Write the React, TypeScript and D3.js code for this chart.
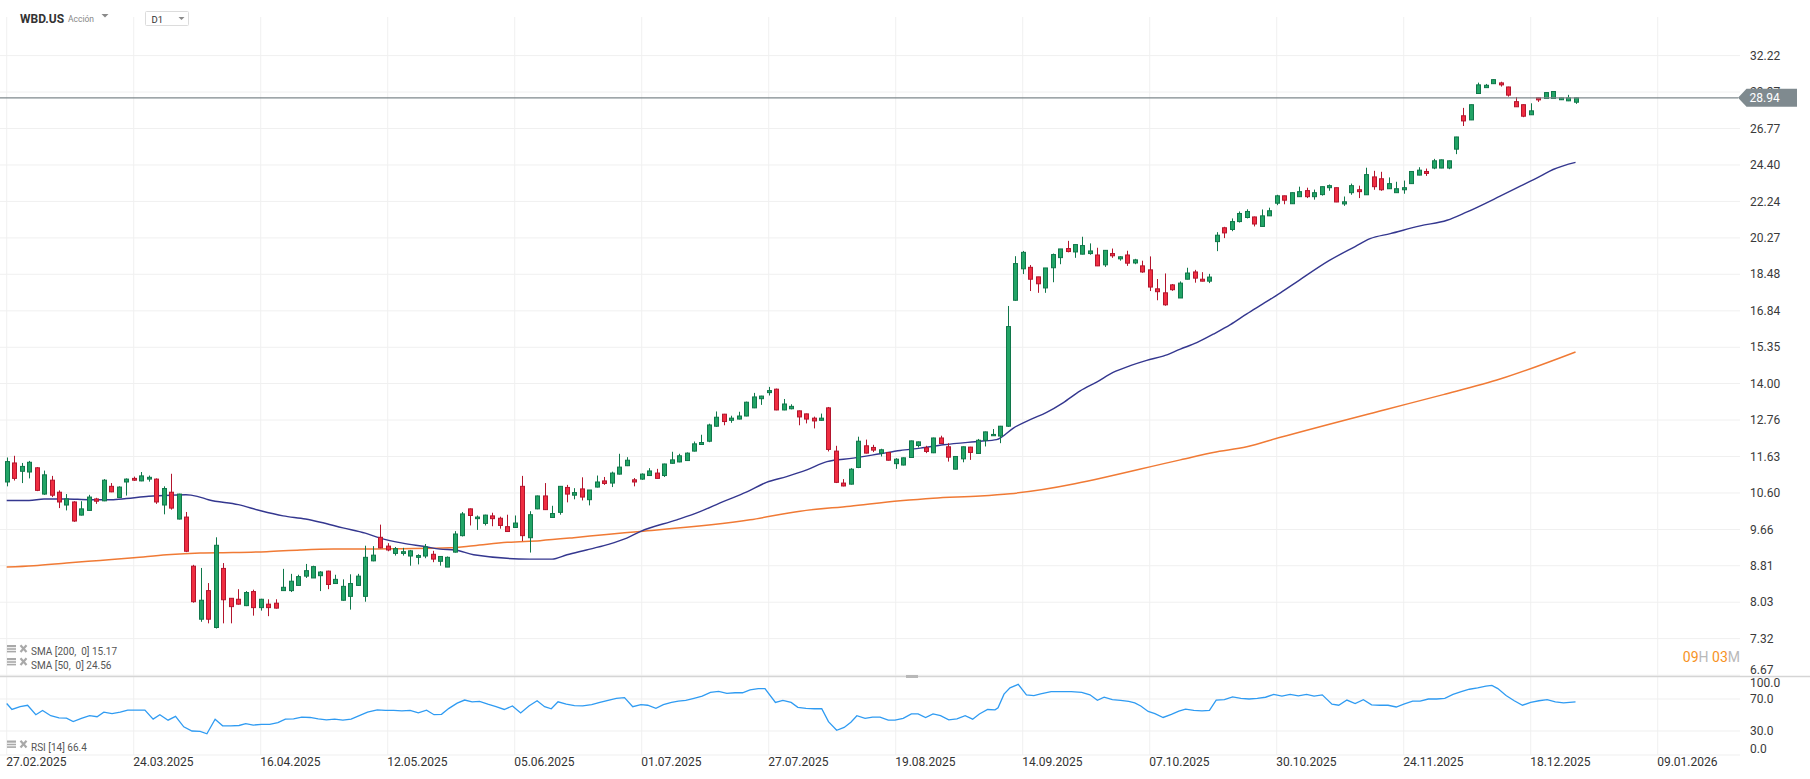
import React from 'react';
import * as d3 from 'd3';

// ---------- DATA ----------
const ticker = 'WBD.US';
const assetType = 'Acción';
const timeframe = 'D1';

const opens = [
  10.90, 11.44, 11.20, 11.18, 11.30, 10.57, 10.95, 10.62, 10.28, 10.36,
  10.02, 10.14, 10.44, 10.39, 10.78, 10.48, 10.90, 11.00, 10.93, 10.98,
  10.98, 10.28, 10.62, 9.92, 9.97, 8.80, 7.69, 8.27, 7.53, 8.75,
  8.11, 8.09, 7.96, 8.25, 7.92, 7.99, 8.01, 8.27, 8.27, 8.38,
  8.58, 8.54, 8.59, 8.69, 8.42, 8.07, 8.15, 8.38, 8.15, 8.92,
  9.47, 9.26, 9.09, 9.09, 9.03, 9.00, 9.03, 9.07, 8.91, 8.78,
  9.12, 9.51, 10.18, 9.93, 9.81, 10.00, 9.94, 9.73, 9.71, 10.78,
  9.46, 10.18, 10.52, 9.96, 10.09, 10.75, 10.54, 10.71, 10.42, 10.76,
  10.93, 10.87, 11.12, 11.36, 10.96, 10.98, 11.08, 11.15, 11.08, 11.43,
  11.47, 11.51, 11.79, 11.99, 12.09, 12.56, 12.95, 12.75, 12.79, 12.89,
  13.16, 13.47, 13.68, 13.80, 13.09, 13.13, 13.06, 12.96, 12.82, 12.75,
  13.16, 11.79, 10.87, 10.84, 11.31, 11.95, 11.90, 11.73, 11.75, 11.42,
  11.38, 11.60, 11.96, 11.89, 11.74, 12.19, 11.92, 11.26, 11.56, 11.91,
  11.72, 12.12, 12.26, 12.25, 12.56, 17.30, 18.74, 18.81, 18.36, 17.85,
  18.79, 19.28, 19.73, 19.56, 19.45, 19.48, 19.41, 18.93, 19.48, 19.22,
  19.41, 19.02, 18.88, 18.69, 17.81, 17.63, 17.99, 17.40, 18.25, 18.59,
  18.25, 18.16, 20.08, 20.80, 20.71, 21.13, 21.35, 21.38, 20.87, 21.44,
  22.14, 22.56, 22.11, 22.51, 22.86, 22.51, 22.63, 23.03, 23.03, 22.10,
  22.74, 22.91, 22.62, 23.67, 23.56, 22.97, 22.74, 22.91, 23.27, 23.78,
  24.00, 24.21, 24.21, 24.21, 25.40, 27.65, 27.36, 29.26, 29.70, 30.00,
  30.06, 29.75, 28.66, 28.44, 27.72, 28.94, 28.89, 28.89, 28.80, 28.72,
  28.62,
];
const highs = [
  11.60, 11.65, 11.44, 11.50, 11.32, 11.22, 11.07, 10.67, 10.57, 10.38,
  10.38, 10.55, 10.47, 10.98, 10.87, 10.78, 11.00, 11.05, 11.18, 11.08,
  11.00, 10.78, 11.13, 10.58, 10.10, 8.83, 8.76, 8.43, 9.47, 8.87,
  8.11, 8.30, 8.26, 8.29, 8.10, 8.09, 8.09, 8.74, 8.63, 8.61,
  8.85, 8.81, 8.69, 8.70, 8.61, 8.51, 8.62, 8.63, 9.27, 9.26,
  9.78, 9.33, 9.24, 9.22, 9.17, 9.07, 9.31, 9.15, 9.02, 9.02,
  9.62, 10.10, 10.19, 10.01, 10.03, 10.08, 9.98, 10.03, 10.01, 11.07,
  10.12, 10.53, 10.87, 10.26, 10.79, 10.82, 10.73, 11.03, 10.68, 11.08,
  11.04, 11.19, 11.71, 11.61, 11.01, 11.14, 11.29, 11.27, 11.42, 11.77,
  11.71, 11.75, 12.08, 12.29, 12.64, 13.04, 12.96, 12.90, 13.03, 13.37,
  13.67, 13.57, 13.88, 13.82, 13.46, 13.28, 13.07, 12.97, 12.87, 12.97,
  13.19, 11.95, 10.98, 11.29, 12.23, 12.14, 11.98, 11.86, 11.76, 11.58,
  11.60, 12.11, 12.08, 11.95, 12.20, 12.26, 12.03, 11.64, 11.93, 11.92,
  12.16, 12.39, 12.47, 12.57, 17.05, 19.35, 19.61, 18.92, 18.36, 18.78,
  19.48, 19.71, 20.12, 19.93, 20.33, 19.99, 19.77, 19.65, 19.73, 19.35,
  19.62, 19.22, 19.13, 19.34, 18.26, 18.52, 18.03, 18.15, 18.79, 18.69,
  18.58, 18.50, 20.57, 20.85, 21.30, 21.68, 21.80, 21.40, 21.79, 21.89,
  22.62, 22.57, 22.75, 23.09, 23.03, 22.92, 23.10, 23.22, 23.04, 22.52,
  23.27, 23.15, 24.23, 24.04, 23.98, 23.64, 23.38, 23.45, 24.01, 24.26,
  24.18, 24.78, 24.74, 24.67, 26.21, 28.21, 28.45, 30.08, 29.98, 30.33,
  30.15, 29.77, 29.00, 28.46, 28.54, 28.96, 29.34, 29.42, 28.96, 29.16,
  28.96,
];
const lows = [
  10.78, 10.94, 10.87, 11.00, 10.65, 10.55, 10.49, 10.20, 10.14, 9.85,
  10.01, 10.13, 10.31, 10.38, 10.62, 10.47, 10.53, 10.93, 10.92, 10.91,
  10.31, 10.04, 10.16, 9.91, 9.12, 8.02, 7.64, 7.61, 7.51, 7.61,
  7.61, 7.98, 7.95, 7.76, 7.86, 7.75, 7.90, 8.27, 8.24, 8.38,
  8.54, 8.54, 8.26, 8.30, 8.41, 8.06, 7.88, 8.37, 8.04, 8.91,
  9.21, 9.14, 9.04, 9.04, 8.81, 8.84, 8.98, 8.89, 8.81, 8.78,
  9.11, 9.49, 9.76, 9.65, 9.76, 9.74, 9.68, 9.61, 9.71, 9.38,
  9.11, 10.17, 10.15, 9.96, 10.03, 10.35, 10.43, 10.40, 10.27, 10.75,
  10.82, 10.76, 11.11, 11.35, 10.78, 10.96, 11.07, 11.00, 11.04, 11.42,
  11.46, 11.50, 11.78, 11.98, 12.06, 12.54, 12.59, 12.67, 12.78, 12.88,
  13.15, 13.26, 13.58, 13.08, 13.08, 13.11, 12.59, 12.65, 12.49, 12.74,
  11.78, 10.87, 10.78, 10.83, 11.29, 11.72, 11.76, 11.63, 11.51, 11.27,
  11.37, 11.59, 11.90, 11.73, 11.73, 12.01, 11.48, 11.25, 11.46, 11.53,
  11.71, 11.93, 12.26, 12.03, 12.54, 17.28, 18.49, 17.71, 17.63, 17.63,
  18.11, 18.96, 19.54, 19.27, 19.44, 19.42, 18.87, 18.83, 19.27, 19.13,
  18.88, 18.96, 18.55, 17.71, 17.30, 17.06, 17.72, 17.40, 18.24, 18.09,
  18.15, 18.07, 19.60, 20.26, 20.62, 21.08, 21.30, 20.87, 20.86, 21.43,
  22.03, 22.08, 22.10, 22.50, 22.43, 22.34, 22.57, 22.85, 22.20, 21.99,
  22.62, 22.43, 22.61, 22.91, 22.85, 22.96, 22.73, 22.68, 23.26, 23.77,
  23.73, 24.14, 24.20, 24.14, 25.08, 26.94, 27.35, 29.24, 29.69, 29.98,
  29.78, 29.03, 28.28, 27.55, 27.71, 28.64, 28.88, 28.88, 28.78, 28.70,
  28.50,
];
const closes = [
  11.48, 11.00, 11.34, 11.46, 10.67, 11.10, 10.54, 10.36, 10.44, 9.87,
  10.18, 10.49, 10.38, 10.95, 10.63, 10.76, 10.98, 10.95, 11.07, 11.03,
  10.36, 10.72, 10.20, 10.57, 9.14, 8.04, 8.07, 7.69, 9.28, 8.08,
  7.94, 7.99, 8.23, 7.92, 8.09, 7.92, 7.91, 8.34, 8.47, 8.57,
  8.70, 8.79, 8.67, 8.40, 8.51, 8.36, 8.42, 8.58, 9.00, 9.05,
  9.22, 9.17, 9.20, 9.13, 9.15, 9.04, 9.24, 8.96, 9.02, 9.00,
  9.55, 10.05, 10.01, 9.97, 10.02, 9.93, 9.76, 9.61, 9.82, 9.51,
  10.03, 10.52, 10.16, 10.06, 10.78, 10.57, 10.61, 10.49, 10.68, 10.90,
  10.86, 11.15, 11.32, 11.52, 10.90, 11.12, 11.21, 11.00, 11.41, 11.53,
  11.65, 11.73, 12.01, 12.05, 12.60, 12.85, 12.71, 12.82, 12.89, 13.35,
  13.53, 13.56, 13.75, 13.09, 13.29, 13.21, 12.86, 12.79, 12.73, 12.82,
  11.84, 10.89, 10.79, 11.26, 12.09, 11.73, 11.82, 11.83, 11.52, 11.55,
  11.59, 12.10, 12.07, 11.78, 12.19, 12.02, 11.61, 11.63, 11.92, 11.75,
  12.12, 12.38, 12.30, 12.56, 16.18, 18.99, 19.54, 18.25, 18.04, 18.78,
  19.43, 19.71, 19.58, 19.93, 19.88, 19.61, 18.88, 19.64, 19.37, 19.32,
  19.01, 19.17, 18.59, 17.89, 17.68, 17.10, 17.77, 18.07, 18.54, 18.30,
  18.16, 18.35, 20.41, 20.53, 21.13, 21.57, 21.68, 21.00, 21.44, 21.72,
  22.56, 22.31, 22.74, 22.80, 22.51, 22.74, 23.09, 23.15, 22.21, 22.22,
  23.15, 22.80, 23.81, 23.09, 22.91, 23.27, 22.97, 23.03, 24.00, 24.08,
  23.88, 24.66, 24.72, 24.66, 26.20, 27.29, 28.44, 29.91, 29.88, 30.31,
  29.91, 29.14, 28.29, 27.62, 28.00, 28.79, 29.33, 29.41, 28.94, 28.94,
  28.94,
];

// SMA(50): bar index, value
const sma50Bars = [0, 3, 5, 8, 11, 14, 16, 19, 22, 24, 25.5, 27, 31, 34, 37, 40, 42, 45, 48, 50, 53, 56, 58, 60, 62.5, 70, 73, 75, 77.6, 80.3, 83, 84.8, 89.7, 92.8, 95.9, 99, 101.7, 104.4, 107.1, 109.8, 113.3, 116.9, 119.6, 122.3, 125.4, 130.3, 132.5, 134.8, 137, 139.2, 141.4, 143.7, 145.9, 148.1, 150.4, 152.6, 154.8, 157.1, 159.3, 161.5, 163.8, 166, 168.2, 170.5, 173, 177, 180.5, 182.5, 185.2, 189.2, 192.8, 195.4, 199.9, 202.6, 205.3, 207, 210];
const sma50Vals = [10.40, 10.40, 10.44, 10.44, 10.42, 10.42, 10.45, 10.51, 10.54, 10.55, 10.51, 10.42, 10.29, 10.13, 10.00, 9.92, 9.84, 9.70, 9.57, 9.45, 9.33, 9.25, 9.19, 9.17, 9.06, 8.96, 8.96, 9.06, 9.17, 9.29, 9.45, 9.61, 9.90, 10.11, 10.37, 10.62, 10.89, 11.05, 11.24, 11.48, 11.58, 11.71, 11.81, 11.88, 11.98, 12.09, 12.14, 12.51, 12.77, 13.01, 13.33, 13.74, 14.05, 14.40, 14.65, 14.85, 15.01, 15.28, 15.53, 15.87, 16.26, 16.71, 17.15, 17.63, 18.20, 19.13, 19.83, 20.23, 20.49, 20.90, 21.20, 21.64, 22.54, 23.12, 23.72, 24.12, 24.56];

// SMA(200)
const sma200Bars = [0, 3.6, 8, 12.5, 17, 21.4, 25.9, 30.3, 34.8, 39.3, 43.7, 48.2, 52.6, 59.3, 62.5, 67, 71.4, 75.9, 80.3, 84.8, 99.5, 106.2, 112.9, 119.6, 124, 130.3, 134.3, 157.1, 161.5, 166, 170.5, 184.5, 192.3, 200, 210];
const sma200Vals = [8.78, 8.81, 8.87, 8.93, 8.99, 9.06, 9.10, 9.11, 9.13, 9.17, 9.19, 9.19, 9.20, 9.22, 9.27, 9.35, 9.39, 9.46, 9.54, 9.61, 9.90, 10.12, 10.25, 10.39, 10.46, 10.52, 10.58, 11.53, 11.75, 11.92, 12.21, 13.10, 13.61, 14.17, 15.17];

// RSI(14)
const rsiBars = [0, 0.7, 1.8, 2.8, 3.9, 4.8, 5.9, 7.0, 8.0, 8.9, 10.0, 11.1, 12.1, 13.0, 14.1, 15.2, 16.2, 17.3, 18.5, 19.6, 20.5, 21.6, 22.6, 23.7, 24.8, 25.9, 26.8, 27.9, 28.9, 30.0, 31.1, 32.0, 33.0, 34.1, 35.2, 36.3, 37.3, 38.4, 39.5, 40.6, 41.7, 42.8, 43.9, 45.0, 46.1, 47.2, 48.3, 49.6, 50.7, 51.8, 52.9, 54.0, 55.1, 56.2, 57.2, 58.2, 59.2, 60.3, 61.3, 62.3, 63.3, 64.4, 65.5, 66.6, 67.7, 68.8, 69.9, 71.0, 72.0, 72.9, 73.8, 74.9, 76.0, 77.1, 78.3, 79.4, 80.5, 81.6, 82.7, 83.8, 84.9, 85.8, 86.9, 87.9, 89.0, 89.9, 90.9, 92.0, 93.1, 94.2, 95.3, 96.4, 97.5, 98.5, 99.5, 100.6, 101.5, 102.9, 103.9, 105.0, 105.9, 107.0, 108.1, 109.1, 110.0, 111.1, 112.1, 113.0, 113.8, 114.9, 115.9, 116.9, 118.0, 118.9, 120.0, 121.1, 122.0, 123.0, 124.0, 125.0, 126.1, 127.2, 128.3, 129.3, 130.2, 131.3, 132.3, 132.7, 133.5, 134.3, 135.4, 136.5, 137.5, 138.4, 139.8, 141.2, 142.5, 143.9, 145.0, 146.0, 146.9, 148.0, 149.1, 150.2, 151.0, 151.8, 152.8, 153.7, 154.8, 155.9, 156.9, 157.8, 158.9, 160.0, 161.0, 161.9, 163.0, 164.1, 165.2, 166.3, 167.4, 168.5, 169.6, 170.7, 171.8, 172.9, 174.0, 175.0, 176.1, 177.4, 178.3, 179.4, 180.5, 181.6, 182.7, 183.8, 184.9, 186.0, 187.1, 188.2, 189.2, 190.3, 191.4, 192.5, 193.6, 194.7, 195.8, 196.9, 198.0, 198.8, 199.6, 200.7, 201.8, 202.9, 204.0, 205.1, 206.2, 207.3, 208.4, 210];
const rsiVals = [64.4, 56.9, 60.4, 62.2, 50.4, 55.7, 49.1, 46.5, 46.1, 41.7, 45.7, 49.1, 47.8, 53.5, 51.7, 53.5, 56.1, 56.1, 56.1, 44.8, 50.4, 43.5, 48.3, 35.2, 30.0, 29.6, 26.5, 44.8, 36.5, 36.5, 36.9, 39.1, 37.4, 38.3, 38.3, 40.4, 44.8, 45.2, 47.4, 46.9, 45.2, 43.9, 44.8, 43.5, 44.8, 49.1, 53.5, 56.5, 55.7, 55.7, 55.2, 55.7, 52.6, 56.1, 50.4, 50.9, 58.3, 64.8, 68.7, 66.5, 67.0, 63.5, 60.4, 56.9, 61.3, 52.6, 61.3, 67.8, 60.4, 57.8, 66.5, 63.5, 61.7, 61.3, 63.0, 65.7, 68.3, 70.9, 71.7, 60.4, 63.0, 62.2, 58.3, 63.0, 65.7, 67.4, 68.3, 70.9, 73.5, 78.3, 79.6, 77.0, 77.8, 77.8, 81.3, 83.0, 83.0, 65.7, 68.3, 65.7, 59.6, 58.3, 57.8, 57.8, 41.7, 30.9, 34.4, 40.9, 49.1, 45.7, 47.4, 47.4, 43.5, 43.5, 45.7, 51.3, 51.3, 46.9, 51.3, 49.1, 43.9, 45.2, 49.1, 44.8, 51.3, 56.9, 56.5, 59.1, 76.1, 83.9, 88.3, 75.2, 74.3, 76.5, 79.1, 79.1, 79.1, 78.3, 75.2, 68.3, 72.2, 69.1, 68.3, 67.0, 65.2, 61.3, 54.4, 51.7, 46.9, 50.9, 54.8, 57.4, 55.7, 55.2, 55.7, 68.7, 69.1, 72.6, 70.9, 70.0, 70.9, 72.2, 75.7, 73.5, 75.7, 73.9, 75.7, 73.5, 75.2, 63.5, 62.2, 68.7, 64.4, 69.1, 62.6, 62.2, 62.2, 60.0, 63.9, 67.4, 67.4, 70.0, 70.0, 70.9, 75.7, 79.1, 82.2, 83.9, 86.1, 87.0, 83.0, 74.3, 67.8, 62.2, 65.7, 67.8, 69.1, 66.5, 65.2, 66.4];

const priceTicks = [32.22, 29.37, 26.77, 24.40, 22.24, 20.27, 18.48, 16.84, 15.35, 14.00, 12.76, 11.63, 10.60, 9.66, 8.81, 8.03, 7.32, 6.67];
const rsiTicks = [100, 70, 30, 0];
const dateLabels = ['27.02.2025', '24.03.2025', '16.04.2025', '12.05.2025', '05.06.2025', '01.07.2025', '27.07.2025', '19.08.2025', '14.09.2025', '07.10.2025', '30.10.2025', '24.11.2025', '18.12.2025', '09.01.2026'];
const dateLabelBars = [0, 17, 34, 51, 68, 85, 102, 119, 136, 153, 170, 187, 204, 221];

const lastPrice = 28.94;
const sma200Last = 15.17;
const sma50Last = 24.56;
const rsiLast = 66.4;
const countdownH = '09';
const countdownM = '03';

// ---------- COMPONENT ----------
const FONT = 'Roboto, "Noto Sans", Arial, sans-serif';

function LegendIcons({ y }: { y: number }) {
  return (
    <g>
      <rect x={7} y={y} width={9} height={2.2} fill="#a9a9a9" />
      <rect x={7} y={y + 3.2} width={9} height={1.6} fill="#a9a9a9" />
      <rect x={7} y={y + 5.8} width={9} height={1.6} fill="#a9a9a9" />
      <path d={`M20.5,${y + 0.3} L26.5,${y + 7}`} stroke="#a9a9a9" strokeWidth={2.2} />
      <path d={`M26.5,${y + 0.3} L20.5,${y + 7}`} stroke="#a9a9a9" strokeWidth={2.2} />
    </g>
  );
}

export default function App() {
  const W = 1810;
  const H = 779;
  const plotRight = 1740;
  const mainBottom = 675.5;

  const x = d3.scaleLinear().domain([0, 221]).range([6.7, 1657.7]);
  const y = d3.scaleLog().domain([6.67, 32.22]).range([675.2, 55.6]);
  const yr = d3.scaleLinear().domain([0, 100]).range([755, 675]);

  const smaLine = d3
    .line<[number, number]>()
    .x((d) => x(d[0]))
    .y((d) => y(d[1]))
    .curve(d3.curveMonotoneX);
  const rsiLine = d3
    .line<[number, number]>()
    .x((d) => x(d[0]))
    .y((d) => yr(d[1]));

  const sma50Pts = sma50Bars.map((b, i) => [b, sma50Vals[i]] as [number, number]);
  const sma200Pts = sma200Bars.map((b, i) => [b, sma200Vals[i]] as [number, number]);
  const rsiPts = rsiBars.map((b, i) => [b, rsiVals[i]] as [number, number]);

  const bodyW = 4;
  const lastY = y(lastPrice);

  return (
    <div style={{ position: 'absolute', left: 0, top: 0, width: W, height: H, background: '#fff' }}>
      <svg width={W} height={H} style={{ display: 'block', fontFamily: FONT }}>
        <defs>
          <clipPath id="mainClip">
            <rect x={0} y={17} width={plotRight} height={mainBottom - 17} />
          </clipPath>
          <clipPath id="rsiClip">
            <rect x={0} y={677} width={plotRight} height={80} />
          </clipPath>
        </defs>
        <rect x={0} y={0} width={W} height={H} fill="#ffffff" />

        {/* vertical grid */}
        {dateLabelBars.map((b) => (
          <line key={'vg' + b} x1={x(b)} x2={x(b)} y1={17} y2={755} stroke="#f0f0f0" strokeWidth={1} />
        ))}

        {/* horizontal grid main */}
        {priceTicks.map((t) => (
          <line key={'hg' + t} x1={0} x2={plotRight} y1={y(t)} y2={y(t)} stroke="#f0f0f0" strokeWidth={1} />
        ))}
        {/* horizontal grid rsi */}
        {rsiTicks.filter((t) => t < 100).map((t) => (
          <line key={'rg' + t} x1={0} x2={plotRight} y1={yr(t)} y2={yr(t)} stroke="#efefef" strokeWidth={1} />
        ))}

        {/* price axis labels */}
        {priceTicks.map((t) => (
          <text
            key={'pl' + t}
            x={1750}
            y={Math.min(y(t), 670)}
            dy="0.35em"
            fontSize={12}
            fill="#3a3a3a"
          >
            {t.toFixed(2)}
          </text>
        ))}

        {/* rsi axis labels */}
        {rsiTicks.map((t) => (
          <text
            key={'rl' + t}
            x={1750}
            y={Math.max(683, Math.min(749, yr(t)))}
            dy="0.35em"
            fontSize={12}
            fill="#3a3a3a"
          >
            {t.toFixed(1)}
          </text>
        ))}

        {/* date labels */}
        {dateLabels.map((d, i) => (
          <text key={'dl' + d} x={x(dateLabelBars[i]) - 0.5} y={766} fontSize={12} fill="#333">
            {d}
          </text>
        ))}

        {/* SMA lines */}
        <g clipPath="url(#mainClip)">
          <path d={smaLine(sma200Pts) || ''} fill="none" stroke="#f07a35" strokeWidth={1.5} />
          <path d={smaLine(sma50Pts) || ''} fill="none" stroke="#34378f" strokeWidth={1.4} />

          {/* candles */}
          {closes.map((c, i) => {
            const o = opens[i];
            const up = c >= o;
            const cx = Math.round(x(i)) + 0.5;
            const top = y(Math.max(o, c));
            const bot = y(Math.min(o, c));
            const fill = up ? '#22a466' : '#ef2d41';
            const stroke = up ? '#10774a' : '#b3152d';
            return (
              <g key={'c' + i}>
                <line x1={cx} x2={cx} y1={y(highs[i])} y2={y(lows[i])} stroke={stroke} strokeWidth={1} />
                <rect
                  x={cx - bodyW / 2}
                  y={top}
                  width={bodyW}
                  height={Math.max(1, bot - top)}
                  fill={fill}
                  stroke={stroke}
                  strokeWidth={1}
                />
              </g>
            );
          })}
        </g>

        {/* current price line */}
        <line x1={0} x2={1738} y1={lastY} y2={lastY} stroke="#7f898d" strokeWidth={1.2} />
        <path
          d={`M1738,${lastY} L1746.5,${lastY - 9} L1797,${lastY - 9} L1797,${lastY + 9} L1746.5,${lastY + 9} Z`}
          fill="#7f8a8f"
        />
        <text x={1749.5} y={lastY} dy="0.36em" fontSize={12} fill="#ffffff">
          {lastPrice.toFixed(2)}
        </text>

        {/* separator */}
        <line x1={0} x2={W} y1={676.5} y2={676.5} stroke="#d5d5d5" strokeWidth={1.5} />
        <rect x={906} y={675} width={12} height={3} fill="#b8b8b8" />

        {/* RSI */}
        <g clipPath="url(#rsiClip)">
          <path d={rsiLine(rsiPts) || ''} fill="none" stroke="#2f9bf2" strokeWidth={1.3} />
        </g>

        {/* legends */}
        <LegendIcons y={645} />
        <text x={31} y={655} fontSize={10} fill="#555" style={{ whiteSpace: 'pre' }}>
          {`SMA [200,  0] ${sma200Last.toFixed(2)}`}
        </text>
        <LegendIcons y={658} />
        <text x={31} y={668.5} fontSize={10} fill="#555" style={{ whiteSpace: 'pre' }}>
          {`SMA [50,  0] ${sma50Last.toFixed(2)}`}
        </text>
        <LegendIcons y={740.5} />
        <text x={31} y={750.5} fontSize={10} fill="#555" style={{ whiteSpace: 'pre' }}>
          {`RSI [14] ${rsiLast.toFixed(1)}`}
        </text>

        {/* countdown */}
        <text x={1740} y={662} fontSize={14} textAnchor="end">
          <tspan fill="#f7931e">{countdownH}</tspan>
          <tspan fill="#b9b9b9">H </tspan>
          <tspan fill="#f7931e">{countdownM}</tspan>
          <tspan fill="#b9b9b9">M</tspan>
        </text>

        {/* header */}
        <rect x={0} y={0} width={W} height={16.5} fill="#ffffff" />
        <text x={20} y={22.7} fontSize={12} fontWeight="bold" fill="#333">
          {ticker}
        </text>
        <text x={68} y={22} fontSize={8.5} fill="#888">
          {assetType}
        </text>
        <path d="M101.5,14 L108.5,14 L105,17.5 Z" fill="#8a8a8a" />
        <rect x={145.5} y={11.5} width={43} height={14} fill="#fff" stroke="#dcdcdc" strokeWidth={1} rx={1} />
        <text x={151.5} y={22.5} fontSize={9.5} fill="#333">
          {timeframe}
        </text>
        <path d="M178.5,17 L184.5,17 L181.5,20 Z" fill="#8a8a8a" />
      </svg>
    </div>
  );
}
